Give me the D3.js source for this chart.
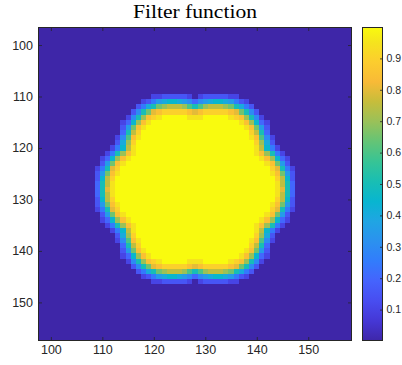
<!DOCTYPE html>
<html>
<head>
<meta charset="utf-8">
<script src="https://cdn.jsdelivr.net/npm/d3@7"></script>
<style>
  body { margin: 0; background: #fff; }
  svg { display: block; }
</style>
</head>
<body>
<div id="chart"></div>
<script>
// image pixel coordinates (one cell per pixel)
const xCells = d3.range(98, 159);
const yCells = d3.range(97, 158);

const xTicks = [100, 110, 120, 130, 140, 150];
const yTicks = [100, 110, 120, 130, 140, 150];
const cbTicks = [0.1, 0.2, 0.3, 0.4, 0.5, 0.6, 0.7, 0.8, 0.9];

// filter values, in steps of 0.05:
// '.' = 0, 'a' = 0.05, 'b' = 0.10 ... 's' = 0.95, '#' = 1
const levelKey = ".abcdefghijklmnopqrs#";
// block of non-zero pixels, first column x = 108, first row y = 110
const blockX0 = 108;
const blockY0 = 110;
const filterRows = [
  "............bbcccccb.bcccccbb............",
  "..........bceghiihgfdfghiihgecb..........",
  ".........cehjmnooonljlnooonmjhec.........",
  "........cfjmpqrrrrrqpqrrrrrqpmjfc........",
  ".......bfjnqrs#####sss#####srqnjfb.......",
  "......bdinqs#################sqnidb......",
  "......cgmqs###################sqmgc......",
  "......djor#####################rojd......",
  ".....bflqs#####################sqlfb.....",
  ".....chnr#######################rnhc.....",
  "....beios#######################soieb....",
  "...bejnqs#######################sqnjeb...",
  "..bdinqs#########################sqnidb..",
  "..cgmqs###########################sqmgc..",
  ".bejpr#############################rpjeb.",
  ".cgmqs#############################sqmgc.",
  ".cior###############################roic.",
  ".djos###############################sojd.",
  ".djps###############################spjd.",
  ".djos###############################sojd.",
  ".cior###############################roic.",
  ".cgmqs#############################sqmgc.",
  ".bejpr#############################rpjeb.",
  "..cgmqs###########################sqmgc..",
  "..bdinqs#########################sqnidb..",
  "...bejnqs#######################sqnjeb...",
  "....beios#######################soieb....",
  ".....chnr#######################rnhc.....",
  ".....bflqs#####################sqlfb.....",
  "......djor#####################rojd......",
  "......cgmqs###################sqmgc......",
  "......bdinqs#################sqnidb......",
  ".......bfjnqrs#####sss#####srqnjfb.......",
  "........cfjmpqrrrrrqpqrrrrrqpmjfc........",
  ".........cehjmnooonljlnooonmjhec.........",
  "..........bceghiihgfdfghiihgecb..........",
  "............bbcccccb.bcccccbb............"
];

// parula colormap anchors
const parulaStops = [
  [0.000, "#3e26a8"], [0.063, "#4537d5"], [0.127, "#484df0"], [0.190, "#4563fd"],
  [0.254, "#327cfc"], [0.317, "#2b91ef"], [0.381, "#20a5e3"], [0.444, "#08b5d0"],
  [0.508, "#19beb3"], [0.571, "#37c495"], [0.635, "#64c476"], [0.698, "#99c159"],
  [0.762, "#c6bd3b"], [0.825, "#f8ba37"], [0.889, "#fccd2e"], [0.952, "#f5e41d"],
  [1.000, "#f9fb0e"]
];
const parula = d3.scaleLinear()
  .domain(parulaStops.map(d => d[0]))
  .range(parulaStops.map(d => d[1]))
  .interpolate(d3.interpolateRgb)
  .clamp(true);

function cellValue(cx, cy) {
  const row = filterRows[cy - blockY0];
  if (!row) return 0;
  const ch = row[cx - blockX0];
  if (ch === undefined) return 0;
  return Math.max(0, levelKey.indexOf(ch)) / 20;
}

const W = 402, H = 365;
const plot = { left: 38, right: 352, top: 27, bottom: 341 };
const cb = { left: 362, right: 383 };
const axisColor = "#262626";

const svg = d3.select("#chart").append("svg")
  .attr("width", W)
  .attr("height", H);

svg.append("rect").attr("width", W).attr("height", H).attr("fill", "#fff");

const x = d3.scaleLinear().domain([97.5, 158.5]).range([plot.left, plot.right]);
const y = d3.scaleLinear().domain([96.5, 157.5]).range([plot.top, plot.bottom]);

const cells = [];
yCells.forEach(cy => xCells.forEach(cx => cells.push({ cx, cy, v: cellValue(cx, cy) })));

svg.append("g")
  .attr("shape-rendering", "crispEdges")
  .selectAll("rect")
  .data(cells)
  .join("rect")
    .attr("x", d => Math.round(x(d.cx - 0.5)))
    .attr("y", d => Math.round(y(d.cy - 0.5)))
    .attr("width", d => Math.round(x(d.cx + 0.5)) - Math.round(x(d.cx - 0.5)))
    .attr("height", d => Math.round(y(d.cy + 0.5)) - Math.round(y(d.cy - 0.5)))
    .attr("fill", d => parula(d.v));

// axes: ticks inside on all four sides, labels left and bottom
function styleAxis(g, fontSize) {
  g.select(".domain").remove();
  g.selectAll(".tick line").attr("stroke", axisColor).attr("stroke-width", 0.8);
  g.selectAll(".tick text")
    .attr("fill", axisColor)
    .style("font-family", "'Liberation Sans', Arial, sans-serif")
    .style("font-size", fontSize + "px");
}

svg.append("g")
  .attr("transform", `translate(0,${plot.bottom})`)
  .call(d3.axisBottom(x).tickValues(xTicks).tickSize(-4).tickPadding(4.5))
  .call(g => styleAxis(g, 12.5));

svg.append("g")
  .attr("transform", `translate(0,${plot.top})`)
  .call(d3.axisTop(x).tickValues(xTicks).tickSize(-4).tickFormat(""))
  .call(g => styleAxis(g, 12.5));

svg.append("g")
  .attr("transform", `translate(${plot.left},0)`)
  .call(d3.axisLeft(y).tickValues(yTicks).tickSize(-4).tickPadding(5))
  .call(g => styleAxis(g, 12.5));

svg.append("g")
  .attr("transform", `translate(${plot.right},0)`)
  .call(d3.axisRight(y).tickValues(yTicks).tickSize(-4).tickFormat(""))
  .call(g => styleAxis(g, 12.5));

svg.append("rect")
  .attr("x", plot.left + 0.5).attr("y", plot.top + 0.5)
  .attr("width", plot.right - plot.left - 1).attr("height", plot.bottom - plot.top - 1)
  .attr("fill", "none").attr("stroke", axisColor).attr("stroke-width", 1);

// colorbar
const cbScale = d3.scaleLinear().domain([0, 1]).range([plot.bottom, plot.top]);

const grad = svg.append("defs").append("linearGradient")
  .attr("id", "parulaGrad")
  .attr("x1", 0).attr("y1", 1).attr("x2", 0).attr("y2", 0);
grad.selectAll("stop")
  .data(parulaStops)
  .join("stop")
    .attr("offset", d => d[0])
    .attr("stop-color", d => d[1]);

svg.append("rect")
  .attr("x", cb.left).attr("y", plot.top)
  .attr("width", cb.right - cb.left).attr("height", plot.bottom - plot.top)
  .attr("fill", "url(#parulaGrad)");

svg.append("g")
  .attr("transform", `translate(${cb.right},0)`)
  .call(d3.axisRight(cbScale).tickValues(cbTicks).tickSize(-3).tickPadding(3.5).tickFormat(d3.format(".1f")))
  .call(g => styleAxis(g, 10.5));

svg.append("rect")
  .attr("x", cb.left + 0.5).attr("y", plot.top + 0.5)
  .attr("width", cb.right - cb.left - 1).attr("height", plot.bottom - plot.top - 1)
  .attr("fill", "none").attr("stroke", axisColor).attr("stroke-width", 1);

// title
svg.append("text")
  .attr("x", (plot.left + plot.right) / 2)
  .attr("y", 18)
  .attr("text-anchor", "middle")
  .attr("fill", "#000")
  .attr("textLength", 124)
  .attr("lengthAdjust", "spacingAndGlyphs")
  .style("font-family", "'Liberation Serif', 'Times New Roman', serif")
  .style("font-size", "19px")
  .text("Filter function");
</script>
</body>
</html>
